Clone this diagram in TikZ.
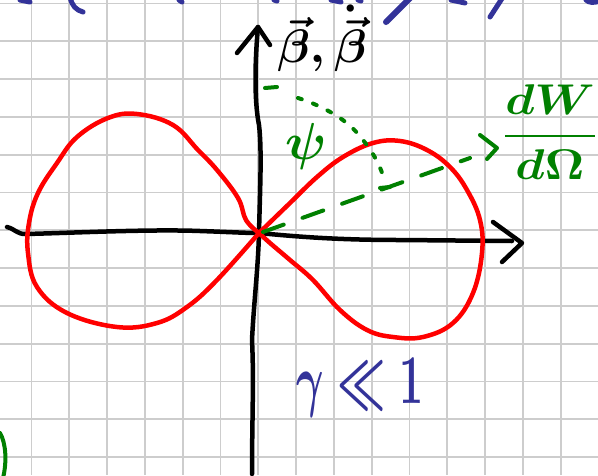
\documentclass[tikz,border=0pt]{standalone}
\usepackage{graphicx}
\definecolor{pengreen}{RGB}{0,128,0}
\definecolor{penblue}{RGB}{51,51,153}
\definecolor{penred}{RGB}{255,0,0}
\definecolor{gridgray}{RGB}{205,205,205}
\tikzset{
  gridline/.style={gridgray, line width=1.8pt},
  pen/.style={line width=4.5pt, line cap=round, line join=round},
  axisline/.style={pen, black},
  lobe/.style={pen, penred},
  bluepen/.style={pen, penblue, line width=5pt},
  greenpen/.style={pen, pengreen, line width=4pt},
  gdash/.style={greenpen, dash pattern=on 22pt off 20pt},
  gdot/.style={greenpen, dash pattern=on 4pt off 12pt},
}
\begin{document}
\begin{tikzpicture}[x=1pt,y=-1pt]
\useasboundingbox (0,0) rectangle (598,475);
\clip (0,0) rectangle (598,475);
\fill[white] (0,0) rectangle (598,475);
% grid paper
\foreach \k in {0,...,15} \draw[gridline] ({31.5+37.8*\k},0) -- ({31.5+37.8*\k},475);
\foreach \k in {0,...,12} \draw[gridline] (0,{3.5+37.8*\k}) -- (598,{3.5+37.8*\k});

% cut-off blue strokes at the top edge
\draw[bluepen] (20,0) -- (30,2);
\draw[bluepen] (70,-3) .. controls (72,6) and (76,10) .. (83,12);
\draw[bluepen] (179,0) -- (182,2);
\draw[bluepen] (274,0) -- (277,1);
\draw[bluepen] (331,0) -- (341,2);
\draw[bluepen] (358,0) -- (361,1);
\draw[bluepen, line width=6pt] (386,22) -- (411,-3);
\draw[bluepen] (451,0) -- (465,3);
\draw[bluepen] (490,17) -- (503,-3);
\draw[bluepen] (586,0) .. controls (589,3) and (594,3) .. (600,1);
% cut-off green stroke at the bottom left
\draw[greenpen] (0,433) .. controls (6,443) and (7,462) .. (3,478);

% coordinates
\coordinate (O) at (259,233);
\coordinate (xstart) at (7,227);
\coordinate (xend) at (512,241);
\coordinate (xtip) at (522,243);
\coordinate (xb1) at (493,222);
\coordinate (xb2) at (502,262);
\coordinate (ystart) at (252,474);
\coordinate (ytip) at (258,27);
\coordinate (yb1) at (237,53);
\coordinate (yb2) at (270,45);
\coordinate (bend) at (265,88);
\coordinate (dend) at (497,148);
\coordinate (da1) at (480,135);
\coordinate (da2) at (487,159);

% axes
\draw[axisline] (xstart) .. controls (15,229) and (17,234) .. (25,234)
  .. controls (70,233) and (150,229) .. (200,231)
  .. controls (230,232) and (245,233) .. (O)
  .. controls (300,237) and (340,240) .. (400,240)
  -- (xend);
\draw[axisline] (xb1) -- (xtip) -- (xb2);
\draw[axisline] (ystart) .. controls (252,420) and (254,380) .. (252,340)
  .. controls (254,300) and (258,270) .. (O)
  .. controls (260,190) and (262,150) .. (259,125)
  .. controls (254,100) and (255,60) .. (ytip);
\draw[axisline] (yb1) -- (ytip) -- (yb2);

% red lobes
\draw[lobe] plot[smooth, tension=0.65] coordinates {(259,233) (246,220) (238,198) (217,170) (198,150) (173,125) (137,114) (108,118) (77,137) (57,163) (38,193) (29,223) (28,253) (37,287) (67,313) (117,327) (157,323) (187,307) (217,280) (259,233)};
\draw[lobe] plot[smooth, tension=0.65] coordinates {(259,233) (290,203) (317,177) (343,157) (373,143) (400,141) (427,150) (450,167) (467,190) (480,220) (482,253) (473,293) (453,323) (423,337) (393,337) (367,330) (340,310) (313,280) (290,260) (270,243) (259,233)};

% green construction
\draw[gdash] (O) ++(4,-1) -- (470,158);
\draw[greenpen] (da1) -- (dend) -- (da2);
\draw[greenpen] (bend) -- (277,87);
\draw[gdot] (298,98) .. controls (320,105) and (345,118) .. (358,134)
  .. controls (372,150) and (380,165) .. (383,176);
\draw[greenpen] (380,188) -- (390,187);

% labels
\node[text=black, inner sep=0pt, anchor=north] (beta) at (322,5) {\scalebox{4.7}{\boldmath$\vec\beta,\dot{\vec\beta}$}};
\node[text=pengreen, inner sep=0pt] (psi) at (306,146) {\scalebox{5.2}{\boldmath$\psi$}};
\node[text=pengreen, inner sep=0pt] (dwdo) at (550,132) {\scalebox{4.8}[4.3]{\boldmath$\displaystyle\frac{dW}{d\Omega}$}};
\node[text=penblue, inner sep=0pt] (gam) at (360,388) {\scalebox{4.2}[7]{\boldmath$\gamma\ll1$}};
\end{tikzpicture}
\end{document}
